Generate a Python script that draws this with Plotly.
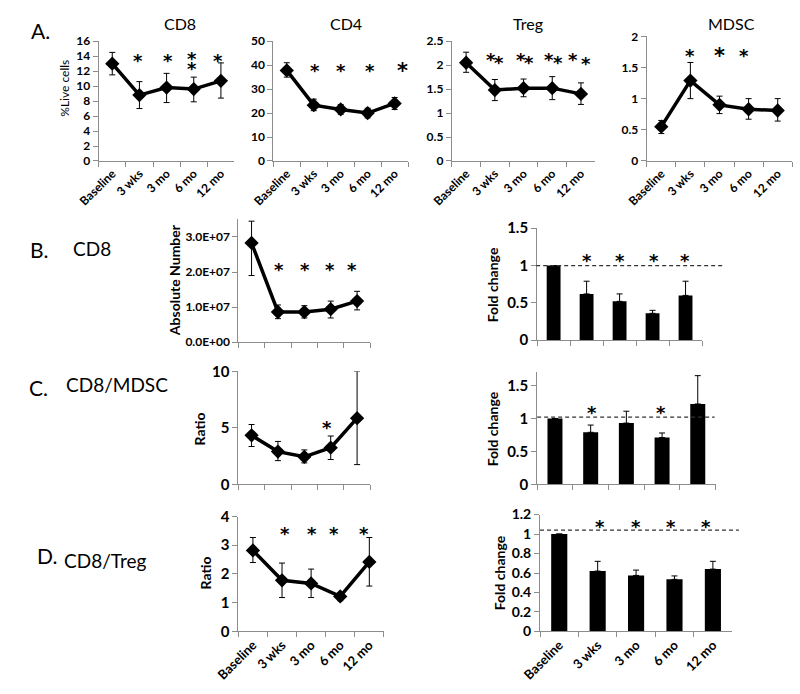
import plotly.graph_objects as go

W, H = 800, 694

categories = ["Baseline", "3 wks", "3 mo", "6 mo", "12 mo"]

# ---- Row A: % of live cells ----
cd8_pct = [13.0, 8.8, 9.8, 9.6, 10.7]
cd8_pct_hi = [14.5, 10.6, 11.7, 11.2, 13.1]
cd8_pct_lo = [11.5, 7.0, 7.8, 7.9, 8.4]

cd4_pct = [37.8, 23.3, 21.5, 20.0, 24.0]
cd4_pct_hi = [41.0, 25.8, 23.5, 22.0, 26.5]
cd4_pct_lo = [35.0, 21.0, 19.5, 18.0, 21.5]

treg_pct = [2.05, 1.48, 1.52, 1.52, 1.40]
treg_pct_hi = [2.27, 1.70, 1.71, 1.76, 1.63]
treg_pct_lo = [1.85, 1.26, 1.34, 1.28, 1.18]

mdsc_pct = [0.55, 1.29, 0.90, 0.83, 0.81]
mdsc_pct_hi = [0.65, 1.58, 1.04, 1.00, 1.00]
mdsc_pct_lo = [0.44, 1.00, 0.76, 0.67, 0.64]

# ---- Row B: CD8 absolute number and fold change ----
cd8_abs = [2.83e7, 8.6e6, 8.6e6, 9.4e6, 1.17e7]
cd8_abs_hi = [3.45e7, 1.06e7, 1.04e7, 1.17e7, 1.45e7]
cd8_abs_lo = [1.9e7, 6.7e6, 6.9e6, 6.9e6, 9.2e6]
abs_tickvals = [0, 1e7, 2e7, 3e7]
abs_ticktext = ["0.0E+00", "1.0E+07", "2.0E+07", "3.0E+07"]

cd8_fold = [1.0, 0.62, 0.52, 0.36, 0.60]
cd8_fold_hi = [1.0, 0.79, 0.62, 0.40, 0.79]

# ---- Row C: CD8/MDSC ratio and fold change ----
cd8_mdsc = [4.34, 2.9, 2.44, 3.25, 5.86]
cd8_mdsc_hi = [5.3, 3.8, 3.05, 4.28, 10.0]
cd8_mdsc_lo = [3.35, 2.1, 1.9, 2.2, 1.75]

cd8_mdsc_fold = [1.0, 0.79, 0.93, 0.71, 1.22]
cd8_mdsc_fold_hi = [1.0, 0.90, 1.11, 0.78, 1.65]

# ---- Row D: CD8/Treg ratio and fold change ----
cd8_treg = [2.82, 1.78, 1.67, 1.22, 2.42]
cd8_treg_hi = [3.27, 2.38, 2.17, 1.35, 3.27]
cd8_treg_lo = [2.40, 1.18, 1.18, 1.07, 1.58]

cd8_treg_fold = [1.0, 0.62, 0.575, 0.535, 0.64]
cd8_treg_fold_hi = [1.0, 0.72, 0.63, 0.57, 0.72]

# significance stars: (category position index, y value, font size)
stars_a1 = [(0.93, 14.0, 18), (2.04, 14.0, 18), (2.93, 14.2, 18), (2.95, 12.9, 18), (3.9, 14.0, 18)]
stars_a2 = [(1.04, 39.4, 18), (2.0, 39.4, 18), (3.1, 39.4, 18), (4.28, 39.4, 21)]
stars_a3 = [(0.86, 2.2, 18), (1.16, 2.13, 18), (1.9, 2.2, 18), (2.2, 2.13, 18),
            (2.9, 2.2, 18), (3.2, 2.13, 18), (3.73, 2.2, 18), (4.17, 2.11, 18)]
stars_a4 = [(1.0, 1.75, 18), (2.0, 1.75, 21), (2.83, 1.75, 18)]
stars_bl = [(1.04, 2.2e7, 18), (2.04, 2.2e7, 18), (2.96, 2.2e7, 18), (3.8, 2.2e7, 18)]
stars_br = [(1.0, 1.12, 18), (2.0, 1.12, 18), (3.03, 1.12, 18), (3.97, 1.12, 18)]
stars_cl = [(2.85, 5.43, 18)]
stars_cr = [(1.05, 1.15, 18), (2.97, 1.15, 18)]
stars_dl = [(1.1, 3.55, 18), (2.03, 3.55, 18), (2.8, 3.55, 18), (3.83, 3.55, 18)]
stars_dr = [(1.05, 1.12, 18), (2.0, 1.12, 18), (2.9, 1.12, 18), (3.83, 1.12, 18)]

FONT = "Lato"
AXC = "#8c8c8c"


def xd(l, r):
    return [l / W, r / W]


def yd(t, b):
    return [1 - b / H, 1 - t / H]


fig = go.Figure()
layout = dict(
    width=W, height=H, margin=dict(l=0, r=0, t=0, b=0), autosize=False,
    paper_bgcolor="white", plot_bgcolor="white", showlegend=False,
    font=dict(family=FONT, color="black"),
)
annotations = []
shapes = []

# (suffix, left, right, top, bottom, yrange, dtick, xlabels, ytickfont size, xtickfont size)
panels = [
    ("", 77, 217, 32, 155, [0, 16], 2, True, 12, 12),
    ("2", 257, 396, 32, 155, [0, 50], 10, True, 12, 12),
    ("3", 441, 589, 32, 155, [0, 2.5], 0.5, True, 12, 12),
    ("4", 642, 792, 27, 155, [0, 2], 0.5, True, 12, 12),
    ("5", 221, 357, 215, 341, [0, 3.5e7], 1e7, False, 12, 12),
    ("6", 529, 699, 224, 339, [0, 1.5], 0.5, False, 15, 12),
    ("7", 221, 357, 371, 487, [0, 10], 5, False, 15, 12),
    ("8", 529, 713, 372, 487, [0, 1.7], 0.5, False, 15, 12),
    ("9", 221, 371, 520, 638, [0, 4], 1, True, 15, 13),
    ("10", 532, 730, 518, 638, [0, 1.2], 0.2, True, 14, 13),
]

for suf, l, r, t, b, yr, dt, xlab, yfs, xfs in panels:
    xa = dict(
        domain=xd(l, r), anchor="y" + suf, type="category",
        categoryorder="array", categoryarray=categories, range=[-0.5, 4.5],
        tickson="boundaries", ticks="outside", ticklen=5, tickcolor=AXC, tickwidth=1,
        showline=True, linecolor=AXC, linewidth=1, showgrid=False, zeroline=False,
        showticklabels=xlab, tickangle=-45,
        tickfont=dict(family=FONT, size=xfs, weight="bold"),
        fixedrange=True,
    )
    ya = dict(
        domain=yd(t, b), anchor="x" + suf, range=yr, dtick=dt, tick0=0,
        ticks="outside", ticklen=5, tickcolor=AXC, tickwidth=1,
        showline=True, linecolor=AXC, linewidth=1, showgrid=False, zeroline=False,
        tickfont=dict(family=FONT, size=yfs, weight="bold"), fixedrange=True,
    )
    if suf == "5":
        ya.update(tickmode="array", tickvals=abs_tickvals, ticktext=abs_ticktext)
    layout["xaxis" + suf] = xa
    layout["yaxis" + suf] = ya


def line_panel(vals, hi, lo, suf):
    fig.add_trace(go.Scatter(
        x=categories, y=vals, mode="lines+markers",
        line=dict(color="black", width=3.5),
        marker=dict(symbol="diamond", size=11, color="black"),
        error_y=dict(type="data", symmetric=False,
                     array=[h - v for h, v in zip(hi, vals)],
                     arrayminus=[v - lo_ for v, lo_ in zip(vals, lo)],
                     color="black", thickness=1, width=3),
        xaxis="x" + suf, yaxis="y" + suf, hoverinfo="skip",
    ))


def bar_panel(vals, hi, suf):
    fig.add_trace(go.Bar(
        x=categories, y=vals, width=0.42,
        marker=dict(color="black", line=dict(width=0)),
        error_y=dict(type="data", symmetric=False,
                     array=[h - v for h, v in zip(hi, vals)],
                     arrayminus=[0] * len(vals),
                     color="black", thickness=1, width=3),
        xaxis="x" + suf, yaxis="y" + suf, hoverinfo="skip",
    ))


line_panel(cd8_pct, cd8_pct_hi, cd8_pct_lo, "")
line_panel(cd4_pct, cd4_pct_hi, cd4_pct_lo, "2")
line_panel(treg_pct, treg_pct_hi, treg_pct_lo, "3")
line_panel(mdsc_pct, mdsc_pct_hi, mdsc_pct_lo, "4")
line_panel(cd8_abs, cd8_abs_hi, cd8_abs_lo, "5")
bar_panel(cd8_fold, cd8_fold_hi, "6")
line_panel(cd8_mdsc, cd8_mdsc_hi, cd8_mdsc_lo, "7")
bar_panel(cd8_mdsc_fold, cd8_mdsc_fold_hi, "8")
line_panel(cd8_treg, cd8_treg_hi, cd8_treg_lo, "9")
bar_panel(cd8_treg_fold, cd8_treg_fold_hi, "10")


def add_stars(stars, suf):
    for xi, yv, fs in stars:
        annotations.append(dict(
            x=xi, y=yv, xref="x" + suf, yref="y" + suf, text="*", showarrow=False,
            font=dict(family="DejaVu Sans", size=fs, weight="bold", color="black"),
            xanchor="center", yanchor="middle", yshift=-4,
        ))


add_stars(stars_a1, "")
add_stars(stars_a2, "2")
add_stars(stars_a3, "3")
add_stars(stars_a4, "4")
add_stars(stars_bl, "5")
add_stars(stars_br, "6")
add_stars(stars_cl, "7")
add_stars(stars_cr, "8")
add_stars(stars_dl, "9")
add_stars(stars_dr, "10")

# dashed reference lines at fold change ~1
for suf, x0, x1, yv in [("6", 528, 720, 1.0), ("8", 529, 712, 1.02), ("10", 532, 737, 1.04)]:
    shapes.append(dict(type="line", xref="paper", yref="y" + suf,
                       x0=x0 / W, x1=x1 / W, y0=yv, y1=yv,
                       line=dict(color="#333333", width=1.3, dash="4px,3px")))


def text_at(txt, px, py, size, bold=False, angle=0):
    annotations.append(dict(
        x=px / W, y=1 - py / H, xref="paper", yref="paper", text=txt, showarrow=False,
        font=dict(family=FONT, size=size, weight="bold" if bold else "normal", color="black"),
        xanchor="center", yanchor="middle", textangle=angle,
    ))


# row labels
text_at("A.", 17, 21, 21)
text_at("B.", 16, 246, 21)
text_at("CD8", 70, 245, 19)
text_at("C.", 15, 388, 21)
text_at("CD8/MDSC", 96, 384, 19)
text_at("D.", 24, 560, 21)
text_at("CD8/Treg", 84, 565, 19)

# panel titles
text_at("CD8", 161, 14, 16)
text_at("CD4", 332, 14, 16)
text_at("Treg", 520, 14, 16)
text_at("MDSC", 729, 14, 16)

# axis titles
text_at("%Live cells", 42, 80, 12, angle=-90)
text_at("Absolute Number", 155, 277, 14, bold=True, angle=-90)
text_at("Ratio", 181, 430, 14, bold=True, angle=-90)
text_at("Ratio", 187, 578, 14, bold=True, angle=-90)
text_at("Fold change", 483, 282, 14, bold=True, angle=-90)
text_at("Fold change", 483, 430, 14, bold=True, angle=-90)
text_at("Fold change", 490, 578, 14, bold=True, angle=-90)

layout["annotations"] = annotations
layout["shapes"] = shapes
fig.update_layout(**layout)
fig.write_html(
    "out.html",
    config={"displayModeBar": False, "staticPlot": True},
    post_script="document.body.style.margin='0';document.body.style.overflow='hidden';",
)
